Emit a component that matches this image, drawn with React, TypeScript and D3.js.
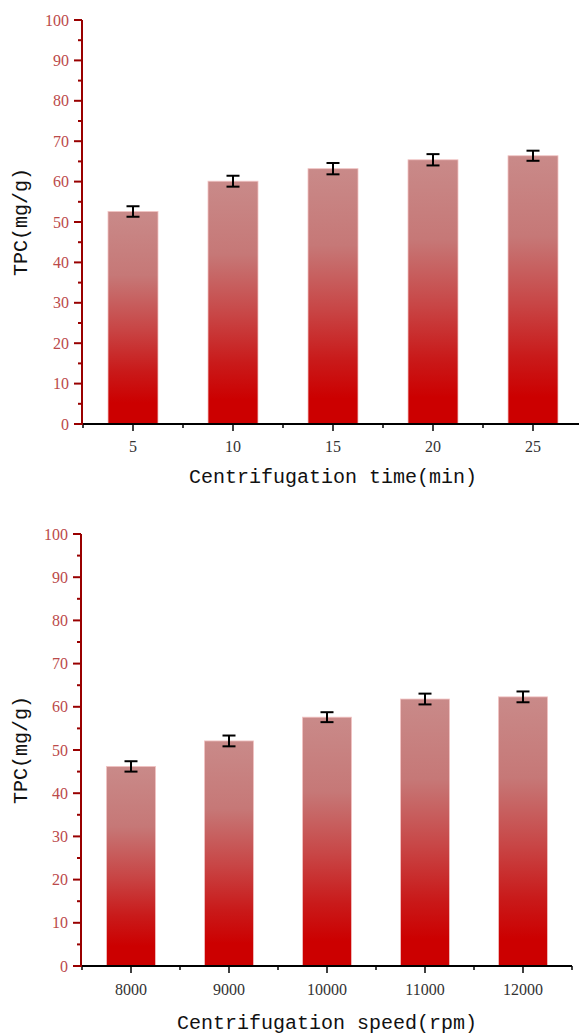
import React from "react";
import * as d3 from "d3";

const timeCategories = ["5", "10", "15", "20", "25"];
const timeValues = [52.6, 60.1, 63.2, 65.4, 66.4];
const timeErrors = [1.3, 1.35, 1.4, 1.4, 1.25];

const speedCategories = ["8000", "9000", "10000", "11000", "12000"];
const speedValues = [46.2, 52.1, 57.6, 61.8, 62.3];
const speedErrors = [1.2, 1.25, 1.15, 1.25, 1.25];

const yTicks = [0, 10, 20, 30, 40, 50, 60, 70, 80, 90, 100];
const yMinorTicks = [5, 15, 25, 35, 45, 55, 65, 75, 85, 95];

type PanelProps = {
  cats: string[];
  vals: number[];
  errs: number[];
  xLeft: number;
  xRight: number;
  axisX: number;
  yTop: number;
  yBottom: number;
  xTitle: string;
  tickLabelY: number;
  titleY: number;
};

function Panel(p: PanelProps) {
  const x = d3
    .scaleBand<string>()
    .domain(p.cats)
    .range([p.xLeft, p.xRight])
    .paddingInner(0.5)
    .paddingOuter(0.25);
  const y = d3.scaleLinear().domain([0, 100]).range([p.yBottom, p.yTop]);
  const step = x.step();
  const boundaries = p.cats.map((c) => (x(c) as number) - step * 0.25).concat([p.xRight]);
  const yMid = (p.yTop + p.yBottom) / 2;
  const axisColor = "#990000";
  return (
    <g>
      {p.cats.map((c, i) => {
        const bx = x(c) as number;
        const v = p.vals[i];
        return (
          <rect
            key={c}
            x={bx}
            y={y(v)}
            width={x.bandwidth()}
            height={y(0) - y(v)}
            fill="url(#barGrad)"
            stroke="#f2c4c4"
            strokeWidth={0.8}
          />
        );
      })}
      {p.cats.map((c, i) => {
        const cx = (x(c) as number) + x.bandwidth() / 2;
        const v = p.vals[i];
        const e = p.errs[i];
        return (
          <g key={"e" + c} stroke="#000" strokeWidth={2}>
            <line x1={cx} x2={cx} y1={y(v + e)} y2={y(v - e)} />
            <line x1={cx - 6.5} x2={cx + 6.5} y1={y(v + e)} y2={y(v + e)} />
            <line x1={cx - 6.5} x2={cx + 6.5} y1={y(v - e)} y2={y(v - e)} />
          </g>
        );
      })}
      {/* x axis */}
      <line x1={p.axisX} x2={p.xRight} y1={p.yBottom} y2={p.yBottom} stroke="#000" strokeWidth={2} />
      {boundaries.map((b, i) => (
        <line key={"mb" + i} x1={b} x2={b} y1={p.yBottom} y2={p.yBottom + 4} stroke="#000" strokeWidth={1.5} />
      ))}
      {p.cats.map((c) => {
        const cx = (x(c) as number) + x.bandwidth() / 2;
        return (
          <g key={"xt" + c}>
            <line x1={cx} x2={cx} y1={p.yBottom} y2={p.yBottom + 7} stroke="#000" strokeWidth={1.5} />
            <text
              x={cx}
              y={p.tickLabelY}
              textAnchor="middle"
              fontFamily="'Liberation Serif', serif"
              fontSize={16}
              fill="#333"
            >
              {c}
            </text>
          </g>
        );
      })}
      <text
        x={(p.xLeft + p.xRight) / 2}
        y={p.titleY}
        textAnchor="middle"
        fontFamily="'Liberation Mono', monospace"
        fontSize={20}
        fill="#111"
      >
        {p.xTitle}
      </text>
      {/* y axis */}
      <line x1={p.axisX} x2={p.axisX} y1={p.yTop} y2={p.yBottom + 1} stroke={axisColor} strokeWidth={2} />
      {yTicks.map((t) => (
        <g key={"yt" + t}>
          <line x1={p.axisX - 8} x2={p.axisX} y1={y(t)} y2={y(t)} stroke={axisColor} strokeWidth={2} />
          <text
            x={p.axisX - 13}
            y={y(t)}
            dy="0.35em"
            textAnchor="end"
            fontFamily="'Liberation Serif', serif"
            fontSize={16}
            fill="#bb4a4a"
          >
            {t}
          </text>
        </g>
      ))}
      {yMinorTicks.map((t) => (
        <line key={"ym" + t} x1={p.axisX - 4} x2={p.axisX} y1={y(t)} y2={y(t)} stroke={axisColor} strokeWidth={2} />
      ))}
      <text
        transform={`translate(20,${yMid}) rotate(-90)`}
        textAnchor="middle"
        dy="0.35em"
        fontFamily="'Liberation Mono', monospace"
        fontSize={20}
        fill="#111"
      >
        TPC(mg/g)
      </text>
    </g>
  );
}

export default function App() {
  return (
    <svg
      width={579}
      height={1034}
      style={{ position: "absolute", left: 0, top: 0, background: "#fff" }}
    >
      <defs>
        <linearGradient id="barGrad" x1="0" y1="0" x2="0" y2="1">
          <stop offset="0" stopColor="#c98a89" />
          <stop offset="0.3" stopColor="#c67877" />
          <stop offset="0.55" stopColor="#c84646" />
          <stop offset="0.75" stopColor="#c91a1a" />
          <stop offset="0.9" stopColor="#cc0000" />
          <stop offset="1" stopColor="#cc0000" />
        </linearGradient>
      </defs>
      <Panel
        cats={timeCategories}
        vals={timeValues}
        errs={timeErrors}
        xLeft={83}
        xRight={583}
        axisX={82}
        yTop={20}
        yBottom={424}
        xTitle="Centrifugation time(min)"
        tickLabelY={452}
        titleY={483}
      />
      <Panel
        cats={speedCategories}
        vals={speedValues}
        errs={speedErrors}
        xLeft={82}
        xRight={572}
        axisX={81}
        yTop={534}
        yBottom={966}
        xTitle="Centrifugation speed(rpm)"
        tickLabelY={995}
        titleY={1029}
      />
    </svg>
  );
}
